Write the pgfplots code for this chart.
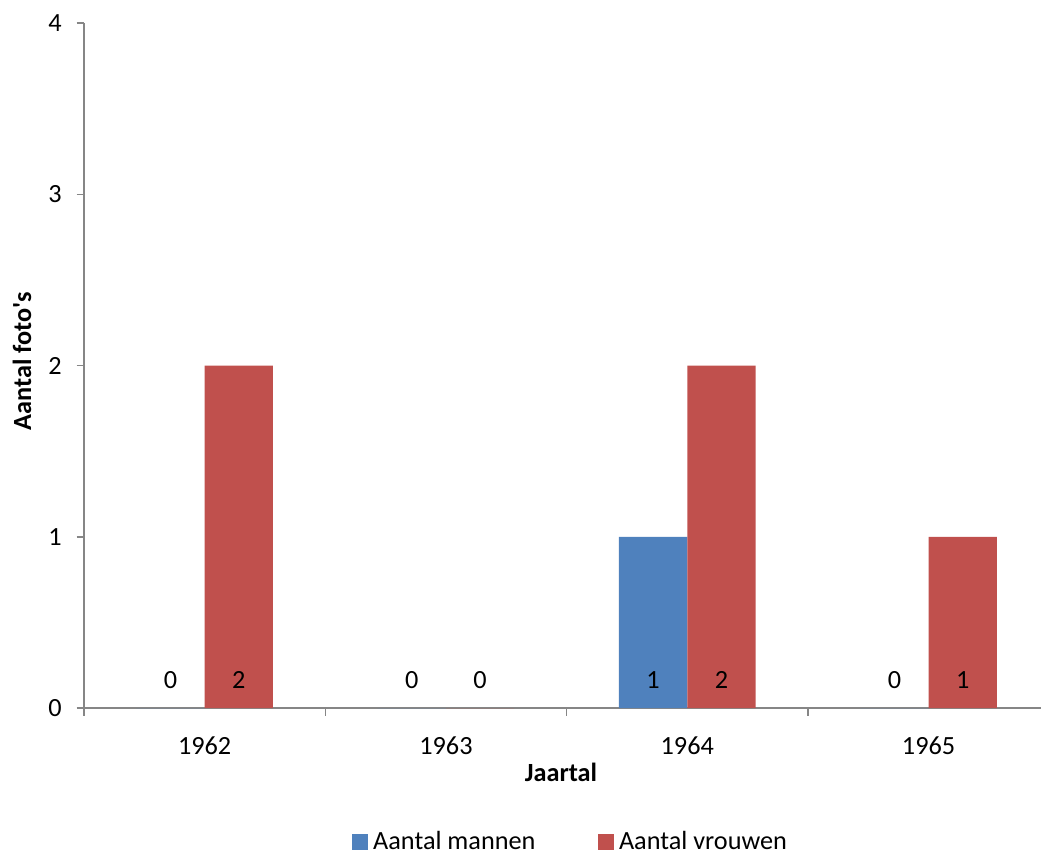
\documentclass[border=0pt]{standalone}
\usepackage{fontspec}
\setmainfont{Carlito}
\usepackage{pgfplots}
\pgfplotsset{compat=1.18}
\definecolor{mblue}{HTML}{4F81BD}
\definecolor{mred}{HTML}{C0504D}
\definecolor{axgray}{HTML}{868686}
\pgfplotsset{sqlegend/.style={legend image code/.code={\fill[##1,draw=none] (0pt,-3.2pt) rectangle (6.4pt,3.2pt);}}}

\begin{document}
\begin{tikzpicture}
\begin{axis}[
  scale only axis, width=382.8pt, height=274pt,
  xmin=-0.5, xmax=3.466, ymin=0, ymax=4,
  axis lines*=left,
  axis line style={axgray, line width=0.6pt},
  ybar=0pt, bar width=0.283,
  xtick={0,1,2,3}, xticklabels={1962,1963,1964,1965},
  minor xtick={-0.5,0.5,1.5,2.5},
  major x tick style={draw=none},
  ytick={0,1,2,3,4},
  tick align=outside, major tick length=3pt, minor tick length=3pt,
  tick style={axgray, line width=0.6pt},
  font=\fontsize{10.5}{12.5}\selectfont,
  /pgf/number format/assume math mode=true,
  xticklabel style={yshift=-4.8pt},
  yticklabel style={xshift=-2.4pt},
  xlabel={\bfseries Jaartal},
  ylabel={\bfseries Aantal foto\textquotesingle s},
  xlabel style={at={(axis description cs:0.4984,-0.0934)}, anchor=center},
  ylabel style={at={(axis description cs:-0.0648,0.5066)}, anchor=center, rotate=0},
  nodes near coords,
  visualization depends on={y \as \rawy},
  every node near coord/.append style={anchor=center, text=black, yshift={11.2pt-\rawy*68.5pt}},
  legend columns=2,
  legend style={at={(axis description cs:0.51,-0.1956)}, anchor=center, draw=none, fill=none,
    /tikz/every even column/.append style={column sep=23pt}},
]
\addplot[fill=mblue, draw=none, sqlegend] coordinates {(0,0) (1,0) (2,1) (3,0)};
\addplot[fill=mred, draw=none, sqlegend] coordinates {(0,2) (1,0) (2,2) (3,1)};
\legend{Aantal mannen, Aantal vrouwen}
\end{axis}
\pgfresetboundingbox
\path[use as bounding box] (-33.6pt,-60pt) rectangle (382.8pt,283.2pt);
\end{tikzpicture}
\end{document}
